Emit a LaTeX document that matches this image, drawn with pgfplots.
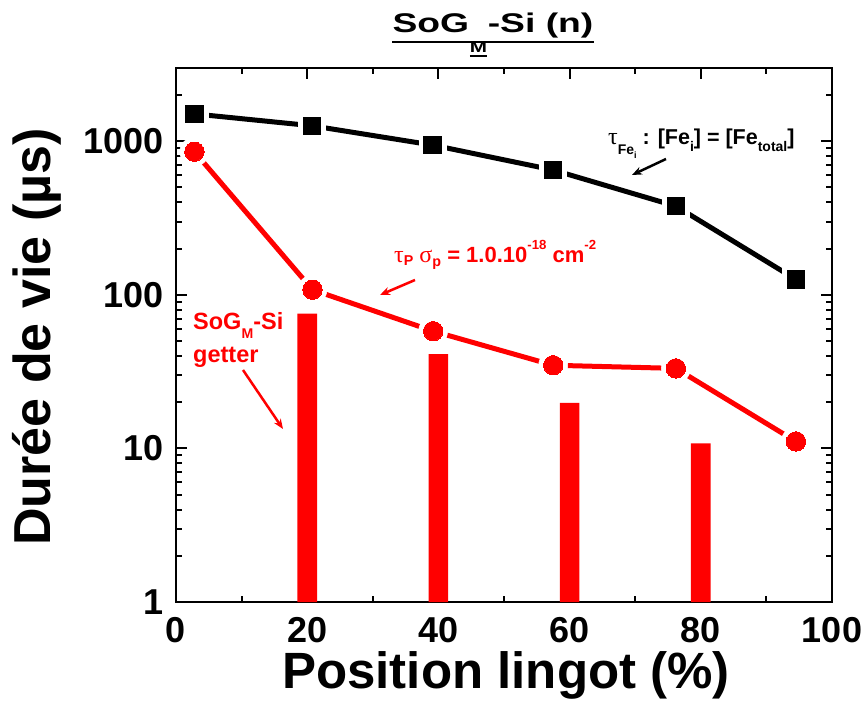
\documentclass[border=0pt]{standalone}
\usepackage{fontspec}
\setmainfont{Liberation Sans}
\newfontfamily\gfont{Liberation Serif}
\usepackage{graphicx}
\usepackage{pgfplots}
\pgfplotsset{compat=1.18}
\usetikzlibrary{arrows.meta}

\newcommand\sub[2][0.3em]{\raisebox{-#1}{\scalebox{0.65}{#2}}}
\newcommand\sups[1]{\raisebox{0.62em}{\scalebox{0.6}{#1}}}

\begin{document}
\begin{tikzpicture}
\path[use as bounding box] (-176pt,-111pt) rectangle (692pt,602pt);
\begin{axis}[
  at={(0pt,0pt)}, anchor=south west,
  scale only axis, width=656pt, height=534pt,
  ymode=log, xmin=0, xmax=100, ymin=1, ymax=3000,
  xtick={0,20,40,60,80,100}, xticklabels={0,20,40,60,80,100},
  minor xtick={10,30,50,70,90},
  ytick={1,10,100,1000}, yticklabels={1,10,100,1000},
  minor ytick={2,3,4,5,6,7,8,9,20,30,40,50,60,70,80,90,200,300,400,500,600,700,800,900,2000,3000},
  tick align=inside,
  major tick length=11pt, minor tick length=6pt,
  tick style={line width=2pt, black},
  axis line style={line width=2pt},
  tick label style={font=\fontsize{36}{36}\selectfont\bfseries, /pgf/number format/assume math mode=true},
  xticklabel style={inner sep=0pt, text depth=0pt, yshift=-15pt},
  yticklabel style={inner sep=0pt, xshift=-12pt},
]
% bars
\addplot[ybar, bar width=3, fill=red, draw=none] coordinates {(20,75.6) (40,41.1) (60,19.8) (80,10.8)};
% lines
\addplot[black, line width=5pt, line cap=round, line join=round] coordinates {(2.8,1507) (20.7,1262) (39.1,945) (57.5,650) (76.2,378) (94.5,126)};
\addplot[red, line width=5pt, line cap=round, line join=round] coordinates {(2.8,855) (20.8,108) (39.2,58) (57.5,34.8) (76.2,33.2) (94.5,11.1)};
% white backing for gaps
\addplot[draw=white, fill=white, only marks, mark=square*, mark size=13.5pt, mark options={draw=white, fill=white, line width=0.5pt}] coordinates {(2.8,1507) (20.7,1262) (39.1,945) (57.5,650) (76.2,378) (94.5,126)};
\addplot[draw=white, fill=white, only marks, mark=*, mark size=14.5pt, mark options={draw=white, fill=white, line width=0.5pt}] coordinates {(2.8,855) (20.8,108) (39.2,58) (57.5,34.8) (76.2,33.2) (94.5,11.1)};
% markers
\addplot[black, only marks, mark=square*, mark size=8.7pt, mark options={black, line width=0pt}] coordinates {(2.8,1507) (20.7,1262) (39.1,945) (57.5,650) (76.2,378) (94.5,126)};
\addplot[red, only marks, mark=*, mark size=9.7pt, mark options={red, line width=0pt}] coordinates {(2.8,855) (20.8,108) (39.2,58) (57.5,34.8) (76.2,33.2) (94.5,11.1)};
\end{axis}

% axis labels
\node[anchor=base, inner sep=0pt, font=\fontsize{51}{51}\selectfont\bfseries] at (330pt,-86pt) {Position lingot (\%)};
\node[anchor=base, inner sep=0pt, rotate=90, font=\fontsize{52}{52}\selectfont\bfseries] at (-125pt,265pt) {Durée de vie (µs)};

% title
\node[anchor=base, inner sep=0pt, font=\fontsize{27}{27}\selectfont\bfseries] (T) at (317pt,569pt)
  {\scalebox{1.38}[1]{SoG\kern0.5pt\smash{\raisebox{-20pt}{\fontsize{15}{15}\selectfont\vtop{\hbox{M}\kern2pt\hrule height 2pt}}}\kern0.5pt-Si (n)}};
\draw[line width=2pt] ([yshift=-9pt]T.base west) -- ([yshift=-9pt]T.base east);

% black annotation
\node[anchor=base west, inner sep=0pt, font=\fontsize{21.5}{21.5}\selectfont\bfseries] at (432pt,457pt)
  {{\gfont\mdseries\fontsize{24}{24}\selectfont τ}\sub[0.45em]{Fe\sub{i}} : [Fe\sub{i}] = [Fe\sub{total}]};
\draw[line width=2.5pt, -{Stealth[length=10pt,width=8pt]}] (490pt,443pt) -- (456pt,427pt);

% red annotation (tau sigma)
\node[anchor=base west, inner sep=0pt, text=red, font=\fontsize{22}{22}\selectfont\bfseries] at (218pt,339pt)
  {{\gfont\mdseries\fontsize{24}{24}\selectfont τ}\sub[0.12em]{P} {\gfont\mdseries\fontsize{24}{24}\selectfont σ}\sub[0.15em]{p} = 1.0.10\sups{-18} cm\sups{-2}};
\draw[red, line width=2.5pt, -{Stealth[length=10pt,width=8pt]}] (239pt,322pt) -- (204pt,307pt);

% red annotation (getter)
\node[anchor=base west, inner sep=0pt, text=red, font=\fontsize{23.5}{23.5}\selectfont\bfseries] at (17pt,272pt)
  {SoG\raisebox{-0.35em}{\scalebox{0.6}{M}}-Si};
\node[anchor=base west, inner sep=0pt, text=red, font=\fontsize{23.5}{23.5}\selectfont\bfseries] at (17pt,239pt) {getter};
\draw[red, line width=2.5pt, -{Stealth[length=10pt,width=8pt]}] (67pt,232pt) -- (107pt,173pt);
\end{tikzpicture}
\end{document}
